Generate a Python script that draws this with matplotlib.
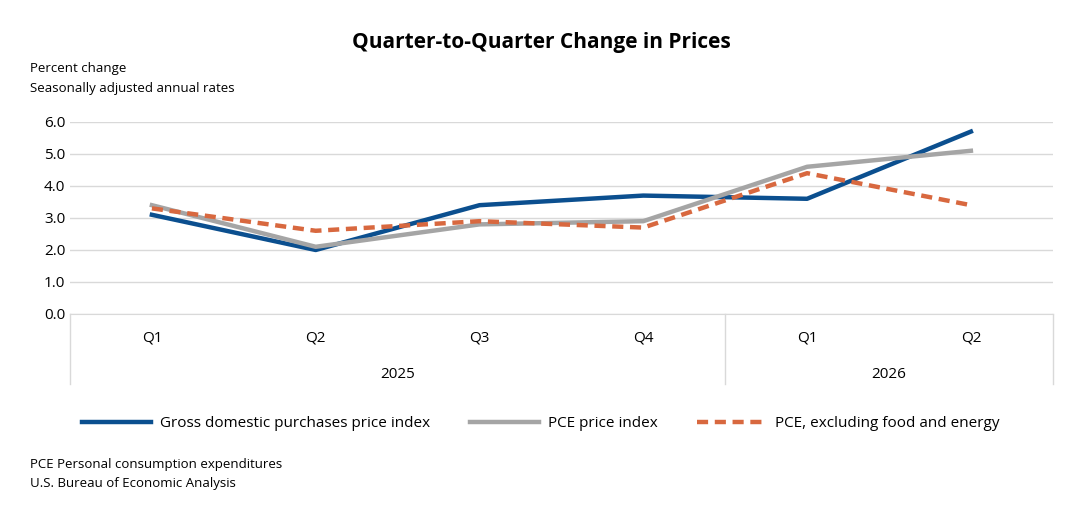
import matplotlib.pyplot as plt

plt.rcParams['font.family'] = ['Open Sans', 'DejaVu Sans']

quarters = ['Q1', 'Q2', 'Q3', 'Q4', 'Q1', 'Q2']
years = ['2025', '2026']
gdp_purchases = [3.1, 2.0, 3.4, 3.7, 3.6, 5.7]
pce = [3.4, 2.1, 2.8, 2.9, 4.6, 5.1]
pce_core = [3.3, 2.6, 2.9, 2.7, 4.4, 3.4]

fig = plt.figure(figsize=(10.82, 5.07), dpi=100)
ax = fig.add_axes([0.0647, 0.3807, 0.9083, 0.3787])
x = range(len(quarters))

ax.plot(x, gdp_purchases, color='#0b4f8f', lw=3.2, label='Gross domestic purchases price index')
ax.plot(x, pce, color='#a5a5a5', lw=3.2, label='PCE price index')
ax.plot(x, pce_core, color='#d8683f', lw=3.2, ls=(0, (2.5, 1.5)), label='PCE, excluding food and energy')

ax.set_xlim(-0.5, 5.5)
ax.set_ylim(0, 6)
ax.set_yticks([0, 1, 2, 3, 4, 5, 6])
ax.set_yticklabels([f'{v:.1f}' for v in range(7)], fontsize=11)
ax.yaxis.grid(color='#d9d9d9', lw=1)
ax.set_axisbelow(True)
ax.tick_params(length=0)
ax.set_xticks([])
for s in ['top', 'right', 'left']:
    ax.spines[s].set_visible(False)
ax.spines['bottom'].set_color('#d9d9d9')

# category axis: quarter labels, year labels, separators
for i, q in enumerate(quarters):
    ax.text(i, -0.75, q, ha='center', va='center', fontsize=11, clip_on=False)
ax.text(1.5, -1.9, years[0], ha='center', va='center', fontsize=11, clip_on=False)
ax.text(4.5, -1.9, years[1], ha='center', va='center', fontsize=11, clip_on=False)
for xs in [-0.5, 3.5, 5.5]:
    ax.plot([xs, xs], [0, -2.2], color='#d9d9d9', lw=1, clip_on=False)

fig.text(0.5, 0.917, 'Quarter-to-Quarter Change in Prices', ha='center', va='center',
         fontsize=15, fontweight='bold')
fig.text(0.028, 0.864, 'Percent change', fontsize=9.5, va='center')
fig.text(0.028, 0.826, 'Seasonally adjusted annual rates', fontsize=9.5, va='center')

fig.legend(loc='center', bbox_to_anchor=(0.5, 0.164), ncol=3, frameon=False,
           fontsize=11, handlelength=4.5, handletextpad=0.6, columnspacing=2.6)

fig.text(0.028, 0.083, 'PCE Personal consumption expenditures', fontsize=9.5, va='center')
fig.text(0.028, 0.047, 'U.S. Bureau of Economic Analysis', fontsize=9.5, va='center')

fig.savefig('out.png', dpi=100)
